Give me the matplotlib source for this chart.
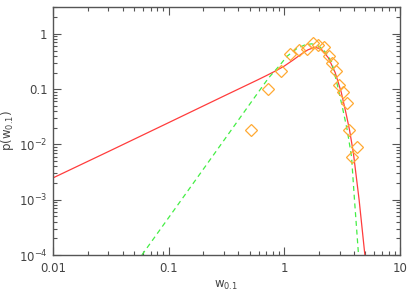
import numpy as np
import matplotlib
matplotlib.use("Agg")
import matplotlib.pyplot as plt
from matplotlib.ticker import FixedLocator, FixedFormatter, LogLocator, NullFormatter

# model curve (red, solid)
w_red = [0.01, 0.03, 0.1, 0.3, 0.58, 0.7, 0.85, 1.0, 1.2, 1.4, 1.6, 1.85,
         2.1, 2.4, 2.75, 3.1, 3.4, 3.66, 3.95, 4.43, 4.97]
p_red = [2.48e-3, 7.4e-3, 2.48e-2, 7.5e-2, 0.145, 0.176, 0.216, 0.262, 0.34,
         0.43, 0.515, 0.575, 0.52, 0.37, 0.20, 0.089, 0.038, 0.0183, 7.1e-3,
         1.0e-3, 1.0e-4]

# model curve (green, dashed)
w_green = [0.0587, 0.2, 0.51, 0.728, 0.92, 1.05, 1.28, 1.5, 1.72, 1.9, 2.11,
           2.3, 2.56, 2.9, 3.19, 3.5, 3.81, 4.04, 4.38]
p_green = [1e-4, 3.6e-3, 0.056, 0.158, 0.275, 0.39, 0.54, 0.63, 0.66, 0.63,
           0.55, 0.45, 0.315, 0.11, 0.045, 0.018, 6e-3, 1e-3, 1e-4]

# measured distribution (diamonds)
w_obs = [0.52, 0.724, 0.933, 1.13, 1.34, 1.56, 1.76, 1.97, 2.20, 2.43, 2.60,
         2.79, 2.98, 3.23, 3.45, 3.64, 4.22, 3.81]
p_obs = [0.0183, 0.100, 0.217, 0.435, 0.507, 0.535, 0.679, 0.619, 0.574,
         0.400, 0.295, 0.211, 0.119, 0.0903, 0.0557, 0.0183, 0.0091, 0.0060]

xticks = [0.01, 0.1, 1, 10]
xlabels = ["0.01", "0.1", "1", "10"]
yticks = [1e-4, 1e-3, 1e-2, 0.1, 1]
ylabels = [r"$\mathregular{10^{-4}}$", r"$\mathregular{10^{-3}}$",
           r"$\mathregular{10^{-2}}$", "0.1", "1"]

axcol = "#555555"
fig = plt.figure(figsize=(4.09, 2.91), dpi=100)
ax = fig.add_axes([0.1296, 0.1237, 0.8484, 0.8533])

ax.plot(w_red, p_red, "-", color="#ff3c3c", lw=0.9)
ax.plot(w_green, p_green, "--", color="#44ee44", lw=0.9, dashes=(4, 3))
ax.plot(w_obs, p_obs, "D", mfc="none", mec="#ffaa33", ms=6, mew=0.9)

ax.set_xscale("log")
ax.set_yscale("log")
ax.set_xlim(0.01, 10)
ax.set_ylim(1e-4, 3.1)

ax.xaxis.set_major_locator(FixedLocator(xticks))
ax.xaxis.set_major_formatter(FixedFormatter(xlabels))
ax.yaxis.set_major_locator(FixedLocator(yticks))
ax.yaxis.set_major_formatter(FixedFormatter(ylabels))
for a in (ax.xaxis, ax.yaxis):
    a.set_minor_locator(LogLocator(base=10, subs=np.arange(2, 10), numticks=20))
    a.set_minor_formatter(NullFormatter())

ax.tick_params(which="both", direction="in", top=True, right=True,
               color=axcol, labelcolor="#444444", labelsize=8.5, width=0.8)
ax.tick_params(which="major", length=6)
ax.tick_params(which="minor", length=3)
ax.tick_params(axis="x", pad=5)
ax.tick_params(axis="y", pad=4)
for s in ax.spines.values():
    s.set_color(axcol)
    s.set_linewidth(1.0)

ax.set_xlabel(r"$\mathregular{w_{0.1}}$", fontsize=8.5, color="#444444", labelpad=3)
ax.set_ylabel(r"$\mathregular{p(w_{0.1})}$", fontsize=8.5, color="#444444", labelpad=2)

fig.savefig("out.png", dpi=100)
